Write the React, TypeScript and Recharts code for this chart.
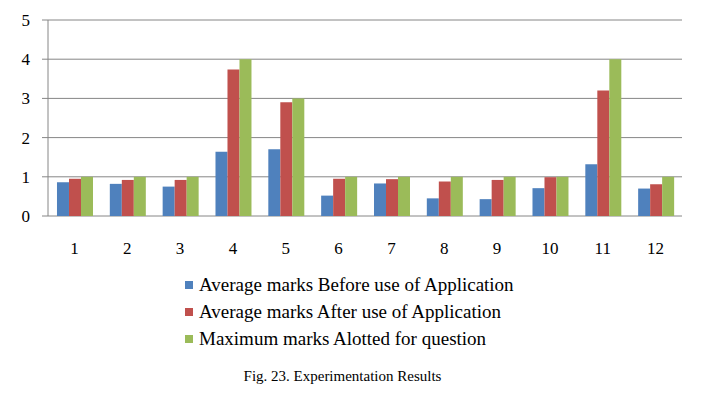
import React from 'react';
import { BarChart, Bar, XAxis, YAxis, CartesianGrid } from 'recharts';

const questions = ['1', '2', '3', '4', '5', '6', '7', '8', '9', '10', '11', '12'];
const beforeMarks = [0.86, 0.82, 0.75, 1.64, 1.7, 0.52, 0.83, 0.45, 0.43, 0.71, 1.32, 0.7];
const afterMarks = [0.95, 0.92, 0.92, 3.74, 2.9, 0.95, 0.94, 0.88, 0.92, 0.99, 3.2, 0.81];
const maxMarks = [1, 1, 1, 4, 3, 1, 1, 1, 1, 1, 4, 1];
const yTicks = [0, 1, 2, 3, 4, 5];
const boundaryTicks = [0, 1, 2, 3, 4, 5, 6, 7, 8, 9, 10, 11, 12];

const colors = {
  blue: '#4F81BD',
  red: '#C0504D',
  green: '#9BBB59',
  grid: '#868686',
  text: '#000000',
} as const;

const seriesInfo = [
  { key: 'before', name: 'Average marks Before use of Application', color: colors.blue },
  { key: 'after', name: 'Average marks After use of Application', color: colors.red },
  { key: 'max', name: 'Maximum marks Alotted for question', color: colors.green },
];

const data = questions.map((q, i) => ({
  q,
  before: beforeMarks[i],
  after: afterMarks[i],
  max: maxMarks[i],
}));

const font = '"Liberation Serif", "Times New Roman", serif';

export default function App() {
  return (
    <div style={{ position: 'absolute', left: 0, top: 0, width: 707, height: 395, background: '#fff' }}>
      <BarChart
        width={707}
        height={395}
        data={data}
        margin={{ top: 20, right: 25, left: 8, bottom: 149 }}
        barCategoryGap="17%"
        barGap={0}
      >
        <CartesianGrid vertical={false} stroke={colors.grid} />
        <XAxis
          xAxisId="bounds"
          type="number"
          domain={[0, 12]}
          ticks={boundaryTicks}
          height={0}
          tick={false}
          tickSize={6}
          tickLine={{ stroke: colors.grid }}
          axisLine={{ stroke: colors.grid }}
        />
        <XAxis
          dataKey="q"
          height={30}
          tickLine={false}
          axisLine={false}
          tickMargin={20}
          tick={{ fill: colors.text, fontSize: 17, fontFamily: font }}
        />
        <YAxis
          domain={[0, 5]}
          ticks={yTicks}
          width={40}
          tickSize={6}
          tickMargin={12}
          tickLine={{ stroke: colors.grid }}
          axisLine={{ stroke: colors.grid }}
          tick={{ fill: colors.text, fontSize: 17, fontFamily: font }}
        />
        {seriesInfo.map((s) => (
          <Bar key={s.key} dataKey={s.key} name={s.name} fill={s.color} isAnimationActive={false} />
        ))}
      </BarChart>
      {/* legend sits below the plot, stacked vertically */}
      <div style={{ position: 'absolute', left: 185, top: 271, fontFamily: font, fontSize: 19, color: colors.text }}>
        {seriesInfo.map((s) => (
          <div key={s.key} style={{ display: 'flex', alignItems: 'center', height: 27 }}>
            <span style={{ display: 'inline-block', width: 8, height: 8, background: s.color, marginRight: 6 }} />
            <span>{s.name}</span>
          </div>
        ))}
      </div>
      <div
        style={{
          position: 'absolute',
          left: 0,
          width: 685,
          top: 368,
          textAlign: 'center',
          fontFamily: font,
          fontSize: 15,
          color: colors.text,
        }}
      >
        Fig. 23. Experimentation Results
      </div>
    </div>
  );
}
